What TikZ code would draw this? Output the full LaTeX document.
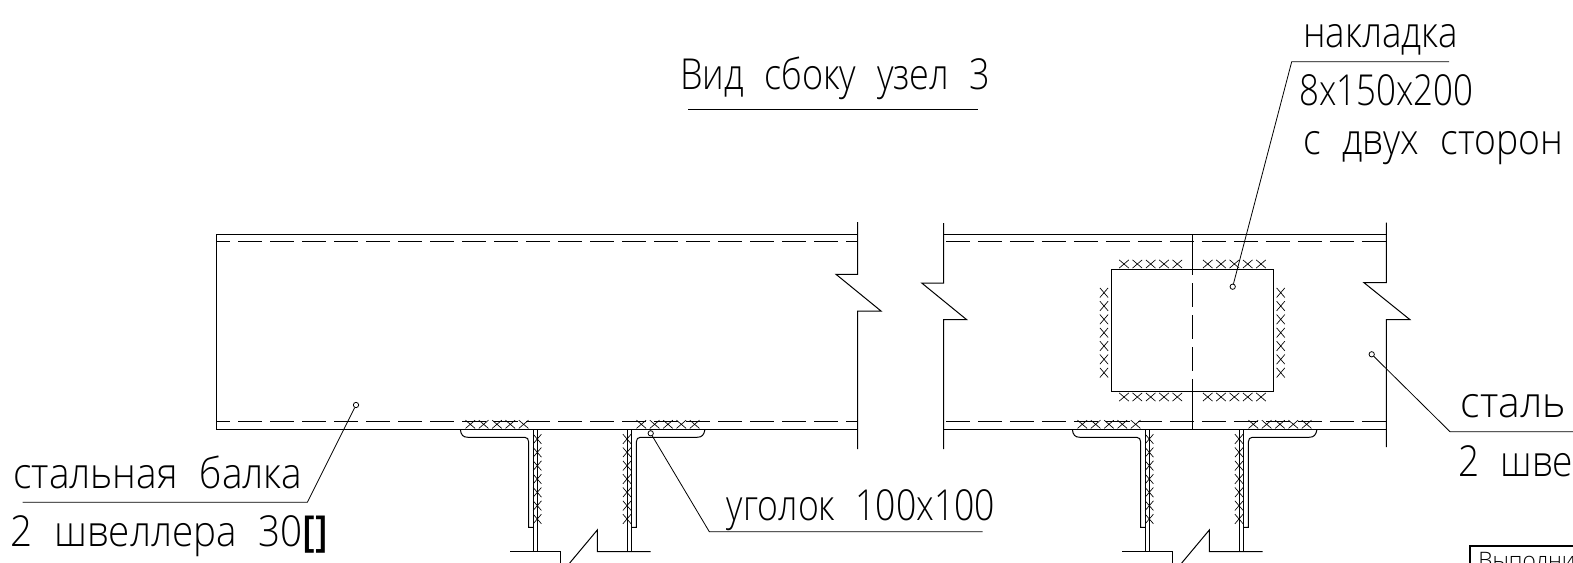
\documentclass[tikz,border=0pt]{standalone}
\usepackage{fontspec}
\usepackage{graphicx}
\setmainfont[WordSpace=2.2]{Open Sans Light}
\usetikzlibrary{calc}

\tikzset{
  solidln/.style={line width=0.75pt},
  hiddenln/.style={line width=0.75pt,dash pattern=on 18pt off 6pt},
  leaderln/.style={line width=0.6pt},
  callout/.style={anchor=base west,inner sep=0pt,font=\fontsize{32}{32}\selectfont},
  smalltext/.style={anchor=base west,inner sep=0pt,font=\fontsize{17}{17}\selectfont},
  stampbox/.style={line width=1.5pt},
  weldx/.style={line width=0.5pt},
  dotmark/.style={circle,draw,line width=0.6pt,inner sep=0pt,minimum size=4pt}
}
% one weld mark, lying (\wx) or standing (\wy)
\newcommand{\wx}[2]{\draw[weldx] (#1-4.8,#2-4.1) -- (#1+4.8,#2+4.1) (#1-4.8,#2+4.1) -- (#1+4.8,#2-4.1);}
\newcommand{\wy}[2]{\draw[weldx] (#1-4.1,#2-4.8) -- (#1+4.1,#2+4.8) (#1-4.1,#2+4.8) -- (#1+4.1,#2-4.8);}
% text set to a width in drawing units
\newcommand{\fitto}[2]{\resizebox{0.75\dimexpr #1pt\relax}{\height}{#2}}

\begin{document}
\begin{tikzpicture}[x=0.75pt,y=0.75pt,yscale=-1,xscale=1]
\useasboundingbox (0,0) rectangle (1573,563);
\begin{scope}
\clip (0,0) rectangle (1573,563);

% Left beam
\draw [solidln] (857.7,234) -- (216,234) -- (216,429.3) -- (857.7,429.3) ;
\draw [hiddenln,dash phase=7.5pt] (216,241.3) -- (857.7,241.3) ;
\draw [hiddenln,dash phase=7.5pt] (216,421.7) -- (857.7,421.7) ;
\draw [solidln] (857.7,222) -- (857.7,274.3) -- (836,274.3) -- (881,311) -- (857.7,311) -- (857.7,449) ;

% Right beam
\draw [solidln] (943.7,234) -- (1386.3,234) ;
\draw [solidln] (943.7,429.3) -- (1386.3,429.3) ;
\draw [hiddenln,dash phase=22.3pt] (943.7,241.3) -- (1386.3,241.3) ;
\draw [hiddenln,dash phase=22.3pt] (943.7,421.7) -- (1386.3,421.7) ;
\draw [solidln] (943.7,223) -- (943.7,283) -- (921.7,283) -- (966.7,319.7) -- (943.7,319.7) -- (943.7,449) ;
\draw [solidln] (1386.3,222.7) -- (1386.3,282.7) -- (1364,282.7) -- (1410,319.7) -- (1386.3,319.7) -- (1386.3,447) ;

% Joint and cover plate
\draw [solidln] (1192.3,234) -- (1192.3,269.3) ;
\draw [hiddenln,dash phase=13.7pt] (1192.3,269.3) -- (1192.3,391.3) ;
\draw [solidln] (1192.3,391.3) -- (1192.3,429.3) ;
\draw [solidln] (1111,269.3) rectangle (1273.7,391.3) ;

% Plate welds
\foreach \k in {0,...,4} {
  \wx{1124+13.33*\k}{264}
  \wx{1207.7+13.33*\k}{264}
  \wx{1124+13.33*\k}{397}
  \wx{1207.7+13.33*\k}{397}
}
\foreach \k in {0,...,6} {
  \wy{1104}{292.7+13.33*\k}
  \wy{1280.7}{292.7+13.33*\k}
}

% Support angles, same under both beams
\foreach \dx in {0,612} {
\begin{scope}[xshift=\dx*0.75pt]
\draw [solidln] (460.3,429.3) .. controls (461,435) and (463,437.3) .. (468,437.3) -- (524.7,437.3) .. controls (527,437.3) and (528.7,439) .. (528.7,442) -- (528.7,527.3) -- (533.7,527.3) ;
\draw [solidln] (533.7,429.3) -- (533.7,551.7) ;
\draw [solidln] (537.3,429.3) -- (537.3,551.7) ;
\draw [solidln] (627.3,429.3) -- (627.3,551.7) ;
\draw [solidln] (631.3,429.3) -- (631.3,551.7) ;
\draw [solidln] (631.3,527.3) -- (636.3,527.3) -- (636.3,442) .. controls (636.3,439) and (638,437.3) .. (640.3,437.3) -- (697,437.3) .. controls (702,437.3) and (704,435) .. (705,429.3) ;
% Column below, with break
\draw [solidln] (510.3,551.7) -- (560.3,551.7) -- (560.3,563) ;
\draw [solidln] (569.7,563) -- (597.3,530) -- (597.3,551.7) -- (650.7,551.7) ;
% Angle welds
\foreach \k in {0,...,4} {
  \wx{470.3+13.33*\k}{424.3}
  \wx{641.3+13.33*\k}{424.3}
}
\foreach \k in {0,...,6} {
  \wy{537.3}{439+13.33*\k}
  \wy{627}{439+13.33*\k}
}
\end{scope}
}

% Leaders
\node [dotmark] (beamdot) at (356,405) {};
\coordinate (beamknee) at (307.3,502.3);
\coordinate (beamend) at (22.7,502.3);
\draw [leaderln] (beamdot) -- (beamknee) -- (beamend) ;

\node [dotmark] (angledot) at (650.7,433.3) {};
\coordinate (angleknee) at (709.3,531.7);
\coordinate (angleend) at (982.7,531.7);
\draw [leaderln] (angledot) -- (angleknee) -- (angleend) ;

\node [dotmark] (platedot) at (1232.7,286.7) {};
\coordinate (plateknee) at (1291.7,61.7);
\coordinate (plateend) at (1449,61.7);
\draw [leaderln] (platedot) -- (plateknee) -- (plateend) ;

\node [dotmark] (rbeamdot) at (1371.7,354.3) {};
\coordinate (rbeamknee) at (1450,431.7);
\coordinate (rbeamend) at (1573,431.7);
\draw [leaderln] (rbeamdot) -- (rbeamknee) -- (rbeamend) ;

% Title
\node [callout] (title) at (680,89.3) {\fitto{310}{Вид сбоку узел 3}};
\coordinate (titlea) at (688,109);
\coordinate (titleb) at (977.7,109);
\draw [leaderln] (titlea) -- (titleb) ;

% Text Node
\node [callout] (plateA) at (1303,48) {\fitto{155}{накладка}};
\node [callout] (plateB) at (1299,106) {\fitto{174}{8x150x200}};
\node [callout] (plateC) at (1303,155) {\fitto{260}{с двух сторон}};
\node [callout] (beamA) at (13,488.3) {\fitto{289}{стальная балка}};
\node [callout] (beamB) at (10,546.7) {\fitto{318}{2 швеллера 30\textbf{[]}}};
\node [callout] (angleA) at (726.7,520) {\fitto{268}{уголок 100x100}};
\node [callout] (rbeamA) at (1460.7,417) {\fitto{105}{сталь}};
\node [callout] (rbeamB) at (1458,476) {\fitto{115}{2 шве}};

% Stamp, cut by the sheet edge
\draw [stampbox] (1470,545.7) rectangle (1600,600) ;
\node [smalltext] (stamp) at (1478,568) {Выполни};

\end{scope}
\end{tikzpicture}
\end{document}
